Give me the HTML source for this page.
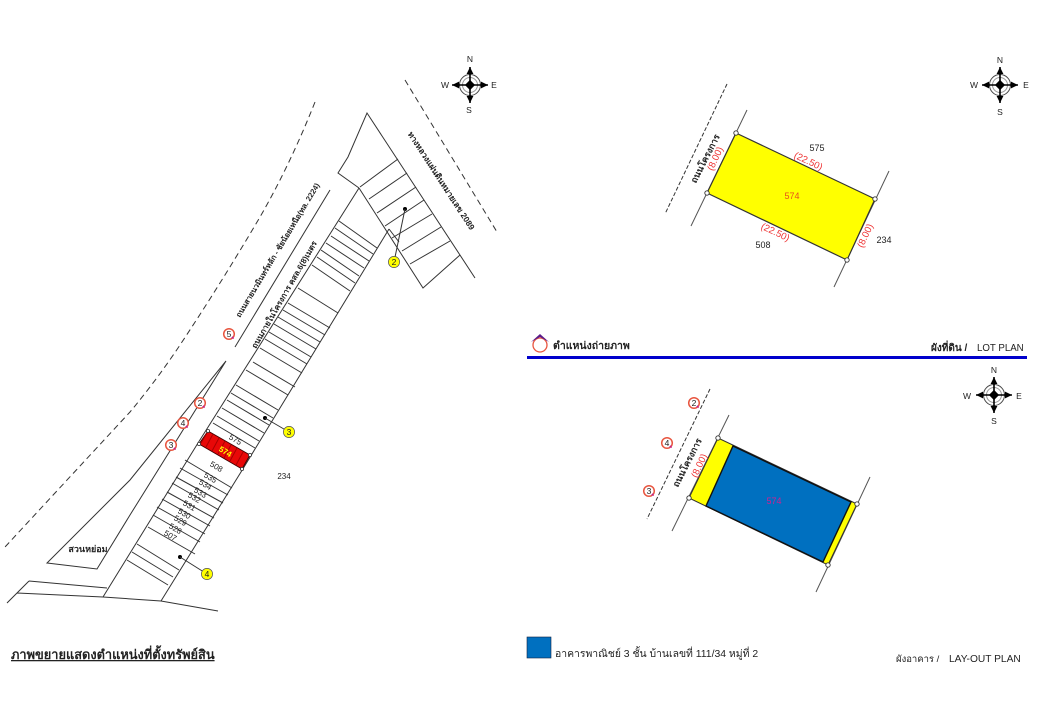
<!DOCTYPE html>
<html lang="th">
<head>
<meta charset="utf-8">
<title>Lot plan</title>
<style>
html,body{margin:0;padding:0;background:#fff;width:1040px;height:720px;overflow:hidden}
svg{display:block;filter:blur(.3px)}
text{font-family:"Liberation Sans","Noto Sans CJK SC","DejaVu Sans",sans-serif;fill:#222}
.l{stroke:#333;stroke-width:1;fill:none}
.g{stroke:#555;stroke-width:1;fill:none}
.d{stroke:#333;stroke-width:1;fill:none;stroke-dasharray:6 4}
.r{fill:#e33;text-anchor:middle}
.m{text-anchor:middle}
</style>
</head>
<body>
<svg width="1040" height="720" viewBox="0 0 1040 720" xmlns="http://www.w3.org/2000/svg">
<defs>
<g id="compass">
<circle r="10.5" fill="none" stroke="#444" stroke-width="1"/>
<circle r="7.5" fill="none" stroke="#999" stroke-width="1"/>
<path d="M0-18 L0 18 M-18 0 L18 0" stroke="#000" stroke-width="1.6"/>
<path d="M0-18 L3.4-11 L-3.4-11Z M0 18 L3.4 11 L-3.4 11Z M-18 0 L-11 3.4 L-11-3.4Z M18 0 L11 3.4 L11-3.4Z" fill="#000"/>
<rect x="-3.6" y="-3.6" width="7.2" height="7.2" transform="rotate(45)" fill="#000"/>
</g>
<g id="ym"><circle r="5.6" fill="#ff0" stroke="#555" stroke-width=".7"/></g>
<g id="om"><circle r="5.3" fill="#fff" stroke="#e8553f" stroke-width="1.5"/><path d="M2 4 L5 5 L4 2Z" fill="#c0208a"/></g>
<g id="pt"><circle r="2.2" fill="#fff" stroke="#333" stroke-width=".9"/></g>
<g id="ps"><circle r="1.6" fill="#fff" stroke="#333" stroke-width=".8"/></g>
</defs>

<!-- LEFT PLAN -->
<path class="d" d="M315 102 Q290 165 260 217 Q220 285 178 348 Q155 382 130 412 L5 547"/>
<path class="d" d="M405 80 L497 232"/>
<path class="l" d="M103 597 L198 443 L359 188"/>
<path class="l" d="M161 601 L241 472 L389 229"/>
<path class="l" d="M359 188 L338 173 L348 157 L367 113 L475 278"/>
<path class="l" d="M359 188 L423 288 L460 255"/>
<path class="l" d="M330 190 L235 347"/>
<path class="l" d="M226 361 L130 480 L47 563 L97 569 L130 515 L226 361"/>
<path class="l" d="M29 581 L107 588 M29 581 L17 593 L7 603 M17 593 L103 597 L161 601 L218 611"/>

<!-- top block lots -->
<path class="l" d="M398 159 L360 187 M407 173 L369 199 M416 187 L377 213 M424 200 L385 226 M432 214 L392 238 M441 227 L402 251 M450 241 L410 264 M389 229 L399 242"/>

<!-- upper strip lots -->
<path class="l" d="M339 221 L377 248 M335 228 L373 254 M331 236 L369 261 M326 243 L364 268 M321 250 L359 276 M317 257 L355 283 M312 265 L350 291 M298 288 L338 313 M288 303 L330 328 M283 310 L325 335 M278 317 L320 342 M274 324 L316 349 M269 332 L311 357 M265 339 L307 364 M260 348 L302 373 M253 362 L295 387 M246 370 L288 395 M236 385 L278 410 M231 393 L273 418 M227 400 L269 425 M222 408 L264 433 M217 416 L259 441 M213 423 L255 448"/>

<!-- lower strip lots -->
<path class="l" d="M185 460 L232 488 M180 468 L228 495 M176 477 L223 503 M172 483 L219 510 M167 492 L214 518 M162 499 L210 526 M157 507 L205 534 M153 515 L200 542 M148 527 L195 554 M137 544 L179 570 M132 552 L173 577 M127 560 L168 585"/>

<!-- red lot -->
<polygon points="208,431 250,455 242,469 199,444" fill="#e80808" stroke="#400" stroke-width="1"/>
<path d="M207 433 L201 443 M213 434 L206 447 M219 438 L212 451 M225 441 L218 454 M231 445 L224 458 M237 448 L230 461 M243 452 L236 465" stroke="#a00" stroke-width="1"/>
<use href="#ps" x="208" y="431"/>
<use href="#ps" x="250" y="455"/>
<use href="#ps" x="242" y="469"/>
<use href="#ps" x="199" y="444"/>

<text class="m" font-size="8" transform="translate(234 442) rotate(30)">575</text>
<text class="m" font-size="8" font-weight="bold" style="fill:#ff0" transform="translate(224 454) rotate(30)">574</text>
<text class="m" font-size="8" transform="translate(215 469) rotate(30)">508</text>
<text class="m" font-size="8" transform="translate(209 480) rotate(30)">535</text>
<text class="m" font-size="8" transform="translate(204 487) rotate(30)">534</text>
<text class="m" font-size="8" transform="translate(199 495) rotate(30)">533</text>
<text class="m" font-size="8" transform="translate(193 500) rotate(30)">532</text>
<text class="m" font-size="8" transform="translate(188 508) rotate(30)">531</text>
<text class="m" font-size="8" transform="translate(183 516) rotate(30)">530</text>
<text class="m" font-size="8" transform="translate(179 523) rotate(30)">529</text>
<text class="m" font-size="8" transform="translate(174 531) rotate(30)">528</text>
<text class="m" font-size="8" transform="translate(169 538) rotate(30)">507</text>
<text class="m" font-size="8" x="284" y="479">234</text>
<text class="m" font-size="9" font-weight="bold" x="88" y="552">สวนหย่อม</text>

<text font-size="7.6" font-weight="bold" transform="translate(240 318) rotate(-59)">ถนนสายนวมินทร์หลัก - ชัยน้อยเหนือ(ทล. 2224)</text>
<text font-size="8" font-weight="bold" transform="translate(256 349) rotate(-60)">ถนนภายในโครงการ คสล.6(8)เมตร</text>
<text font-size="8.3" font-weight="bold" transform="translate(407.5 134) rotate(57)">ทางหลวงแผ่นดินหมายเลข 2089</text>

<!-- leaders and markers -->
<circle cx="405" cy="209" r="2" fill="#000"/><circle cx="265" cy="418" r="2" fill="#000"/><circle cx="180" cy="557" r="2" fill="#000"/>
<path class="l" d="M405 209 L394 262 M265 418 L289 432 M180 557 L207 574"/>
<use href="#ym" x="394" y="262"/><text class="m" font-size="8.5" x="394" y="265">2</text>
<use href="#ym" x="289" y="432"/><text class="m" font-size="8.5" x="289" y="435">3</text>
<use href="#ym" x="207" y="574"/><text class="m" font-size="8.5" x="207" y="577">4</text>
<use href="#om" x="229" y="334"/><text class="m" font-size="8.5" x="229" y="337">5</text>
<use href="#om" x="200" y="403"/><text class="m" font-size="8.5" x="200" y="406">2</text>
<use href="#om" x="183" y="423"/><text class="m" font-size="8.5" x="183" y="426">4</text>
<use href="#om" x="171" y="445"/><text class="m" font-size="8.5" x="171" y="448">3</text>

<!-- compass left -->
<use href="#compass" x="470" y="85"/>
<text class="m" font-size="8.5" x="470" y="62">N</text><text class="m" font-size="8.5" x="469" y="113">S</text>
<text class="m" font-size="8.5" x="445" y="88">W</text><text class="m" font-size="8.5" x="494" y="88">E</text>

<text font-size="12.8" font-weight="bold" text-decoration="underline" x="11" y="659">ภาพขยายแสดงตำแหน่งที่ตั้งทรัพย์สิน</text>

<!-- TOP RIGHT PLAN -->
<path class="g" d="M747 110 L691 226 M889 171 L834 287"/>
<path class="d" style="stroke-dasharray:4 2" d="M727 84 L665 214"/>
<polygon points="736,133 875,199 847,260 707,193" fill="#ff0" stroke="#333" stroke-width="1.2"/>
<use href="#pt" x="736" y="133"/><use href="#pt" x="875" y="199"/><use href="#pt" x="847" y="260"/><use href="#pt" x="707" y="193"/>
<text class="m" font-size="9" x="817" y="151">575</text>
<text class="r" font-size="9.6" transform="translate(807 164) rotate(25)">(22.50)</text>
<text class="m" font-size="9" style="fill:#e8501a" x="792" y="199">574</text>
<text class="r" font-size="9.6" transform="translate(774 235) rotate(25)">(22.50)</text>
<text class="m" font-size="9" x="763" y="248">508</text>
<text class="r" font-size="9.6" transform="translate(868 237) rotate(-65)">(8.00)</text>
<text class="m" font-size="9" x="884" y="243">234</text>
<text class="m" font-size="9" font-weight="bold" transform="translate(708 160) rotate(-63)">ถนนโครงการ</text>
<text class="r" font-size="9.6" transform="translate(718 160) rotate(-65)">(8.00)</text>
<use href="#compass" x="1000" y="85"/>
<text class="m" font-size="8.5" x="1000" y="63">N</text><text class="m" font-size="8.5" x="1000" y="115">S</text>
<text class="m" font-size="8.5" x="974" y="88">W</text><text class="m" font-size="8.5" x="1026" y="88">E</text>

<!-- HEADER -->
<rect x="527" y="356" width="500" height="3" fill="#0000cc"/>
<circle cx="540" cy="345" r="7" fill="#fff" stroke="#e8553f" stroke-width="1.3"/>
<path d="M531 342 L540 334 L549 342 L540 337Z" fill="#5a1a8a"/>
<text font-size="10.5" font-weight="bold" x="553" y="349">ตำแหน่งถ่ายภาพ</text>
<text font-size="10" font-weight="bold" x="931" y="351">ผังที่ดิน /</text>
<text font-size="9.7" x="977" y="351">LOT PLAN</text>

<!-- BOTTOM RIGHT PLAN -->
<path class="g" d="M729 415 L672 531 M870 477 L816 592"/>
<path class="d" style="stroke-dasharray:4 2" d="M710 389 L647 519"/>
<polygon points="718,438 857,504 828,565 689,498" fill="#ff0" stroke="#333" stroke-width="1"/>
<polygon points="733,446 851,502 823,562 706,506" fill="#0070c0" stroke="#111" stroke-width="1.4"/>
<use href="#pt" x="718" y="438"/><use href="#pt" x="857" y="504"/><use href="#pt" x="828" y="565"/><use href="#pt" x="689" y="498"/>
<text class="m" font-size="9" style="fill:#d02090" x="774" y="504">574</text>
<text class="m" font-size="9" font-weight="bold" transform="translate(690 464) rotate(-63)">ถนนโครงการ</text>
<text class="r" font-size="9.6" transform="translate(702 467) rotate(-65)">(8.00)</text>
<use href="#om" x="694" y="403"/><text class="m" font-size="8.5" x="694" y="406">2</text>
<use href="#om" x="667" y="443"/><text class="m" font-size="8.5" x="667" y="446">4</text>
<use href="#om" x="649" y="491"/><text class="m" font-size="8.5" x="649" y="494">3</text>
<use href="#compass" x="994" y="395"/>
<text class="m" font-size="8.5" x="994" y="373">N</text><text class="m" font-size="8.5" x="994" y="424">S</text>
<text class="m" font-size="8.5" x="967" y="399">W</text><text class="m" font-size="8.5" x="1019" y="399">E</text>

<!-- LEGEND -->
<rect x="527" y="637" width="24" height="21" fill="#0070c0" stroke="#124" stroke-width=".6"/>
<text font-size="10.4" x="555" y="657">อาคารพาณิชย์ 3 ชั้น บ้านเลขที่ 111/34 หมู่ที่ 2</text>
<text font-size="9.5" x="896" y="662">ผังอาคาร /</text>
<text font-size="10.2" x="949" y="662">LAY-OUT PLAN</text>
</svg>
</body>
</html>
